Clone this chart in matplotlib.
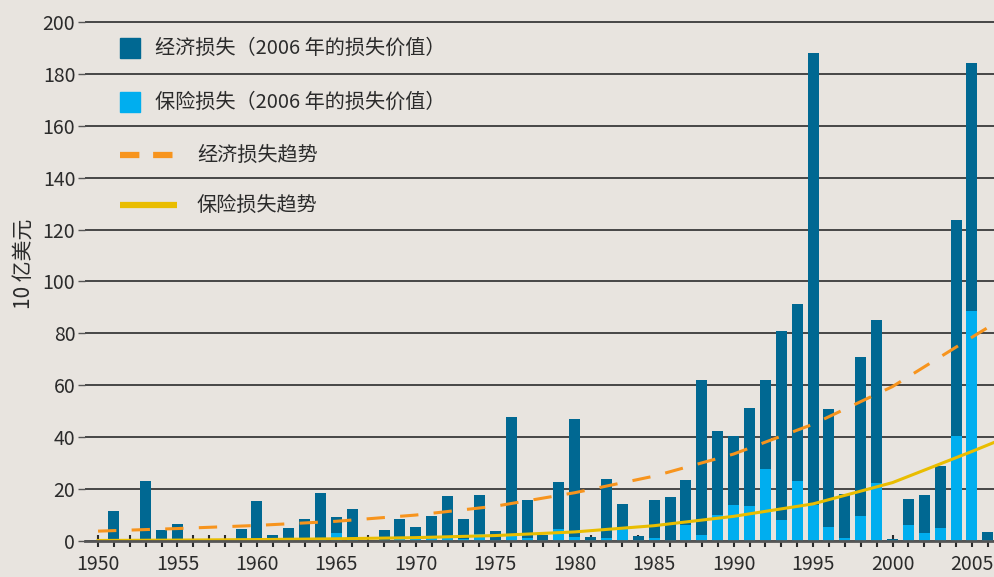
import numpy as np
import matplotlib.pyplot as plt
from matplotlib.patches import Rectangle
from matplotlib.lines import Line2D

plt.rcParams['font.family'] = ['Noto Sans CJK SC', 'DejaVu Sans']

# data (billion USD, 2006 values)
years = list(range(1951, 2007))
economic = [11.6, 0, 23.1, 4.2, 6.5, 0, 0, 0, 4.6, 15.4,
            2.3, 5.0, 8.5, 18.6, 9.2, 12.3, 0, 4.2, 8.5, 5.4,
            9.6, 17.3, 8.5, 17.7, 3.9, 47.8, 15.8, 2.3, 22.7, 47.0,
            1.5, 23.9, 14.3, 1.9, 15.8, 17.0, 23.5, 62.0, 42.4, 40.5,
            51.3, 62.0, 80.9, 91.3, 188.0, 50.9, 18.1, 70.9, 85.2, 0.8,
            16.2, 17.7, 28.9, 123.7, 184.2, 3.5]
insured = [0.3, 0, 0.4, 0.3, 0.4, 0, 0, 0, 0.3, 0.5,
           0.3, 0.4, 0.6, 0.8, 3.0, 0.8, 0, 0.5, 1.2, 1.5,
           1.0, 1.5, 0.8, 2.7, 0.5, 2.0, 1.0, 0.5, 4.6, 1.5,
           0.3, 1.0, 5.4, 0.5, 1.2, 0.3, 6.2, 2.3, 10.0, 13.9,
           13.5, 27.7, 8.1, 23.1, 13.9, 5.4, 1.2, 9.6, 22.4, 0.2,
           6.2, 3.0, 5.0, 40.5, 88.6, 0.2]

trend_years = [1950, 1955, 1960, 1965, 1970, 1975, 1980, 1985, 1990, 1995, 2000, 2005, 2006.6]
econ_trend = [3.8, 4.8, 6.0, 7.6, 10.0, 13.4, 18.6, 25.0, 33.5, 45.0, 59.5, 78.5, 84.5]
ins_trend = [0.2, 0.35, 0.55, 0.85, 1.3, 2.1, 3.5, 5.9, 9.5, 14.3, 22.5, 34.5, 38.5]

bg = '#e8e4df'
dark = '#006892'
light = '#00aeef'
orange = '#f7941d'
yellow = '#e9bd00'
txt = '#2b2b2b'

fig = plt.figure(figsize=(9.95, 5.77), dpi=100, facecolor=bg)
ax = fig.add_axes([85/995, 36/577, 910/995, 523/577], facecolor=bg)

ax.bar(years, economic, width=0.69, color=dark, zorder=2)
ax.bar(years, insured, width=0.69, color=light, zorder=3)
ax.plot(trend_years, econ_trend, color=orange, lw=2.2, dashes=(6, 5), zorder=4)
ax.plot(trend_years, ins_trend, color=yellow, lw=2.2, zorder=4)

ax.set_xlim(1949.18, 2006.45)
ax.set_ylim(0, 201.5)
ax.set_yticks(range(0, 201, 20))
ax.set_xticks(range(1950, 2006, 5))
ax.set_xticks(range(1950, 2007), minor=True)
ax.yaxis.grid(True, color='#3a3a3a', lw=1.3, zorder=1)
ax.set_axisbelow(True)
for s in ['top', 'right', 'left']:
    ax.spines[s].set_visible(False)
ax.spines['bottom'].set_color('#555555')
ax.spines['bottom'].set_linewidth(2)
ax.spines['bottom'].set_zorder(5)
ax.tick_params(axis='x', which='both', direction='inout', length=9, width=1.5,
               color='#2a2a2a', labelsize=14, labelcolor=txt, pad=5)
ax.tick_params(axis='y', length=5, width=1, color='#555555', labelsize=14,
               labelcolor=txt, pad=2)
ax.set_ylabel('10 亿美元', fontsize=15, color=txt)
ax.yaxis.set_label_coords(-0.055, 0.53)

# legend drawn by hand to match placement
def fy(py):
    return 1 - py / 577

def fx(px):
    return px / 995

items = [('patch', dark, '经济损失（2006 年的损失价值）', 48),
         ('patch', light, '保险损失（2006 年的损失价值）', 102),
         ('dash', orange, '经济损失趋势', 155),
         ('line', yellow, '保险损失趋势', 205)]
for kind, col, label, py in items:
    if kind == 'patch':
        fig.patches.append(Rectangle((fx(120), fy(py + 10)), 20/995, 20/577,
                                     transform=fig.transFigure, color=col))
        fig.text(fx(155), fy(py), label, fontsize=14.5, color=txt, va='center')
    else:
        ln = Line2D([fx(120), fx(177)], [fy(py), fy(py)], transform=fig.transFigure,
                    color=col, lw=4.5, solid_capstyle='butt', dash_capstyle='butt')
        if kind == 'dash':
            ln.set_dashes((3.1, 2.2))
        fig.lines.append(ln)
        fig.text(fx(197), fy(py), label, fontsize=14.5, color=txt, va='center')

fig.savefig('out.png', dpi=100, facecolor=bg)
